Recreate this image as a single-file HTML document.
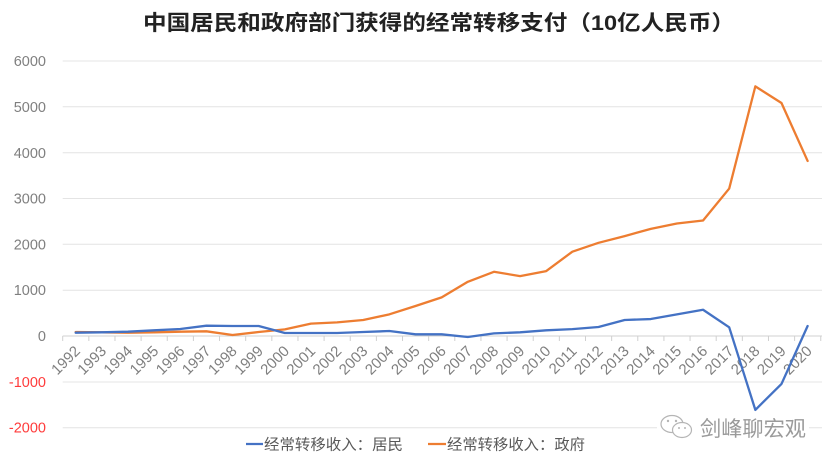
<!DOCTYPE html>
<html><head><meta charset="utf-8">
<style>
html,body{margin:0;padding:0;background:#fff;}
svg{display:block;}
text{font-family:"Liberation Sans","Noto Sans CJK SC",sans-serif;}
</style></head>
<body>
<svg width="830" height="467" viewBox="0 0 830 467" xmlns="http://www.w3.org/2000/svg">
<rect width="830" height="467" fill="#fff"/>
<!-- title -->
<text x="143" y="30" font-size="21" font-weight="bold" fill="#222" textLength="592" lengthAdjust="spacingAndGlyphs" style="font-family:'Liberation Sans','Noto Sans CJK SC',sans-serif">中国居民和政府部门获得的经常转移支付（10亿人民币）</text>

<!-- gridlines -->
<g stroke="#e4e4e4" stroke-width="1">
<line x1="62.7" x2="822" y1="61" y2="61"/>
<line x1="62.7" x2="822" y1="106.8" y2="106.8"/>
<line x1="62.7" x2="822" y1="152.7" y2="152.7"/>
<line x1="62.7" x2="822" y1="198.5" y2="198.5"/>
<line x1="62.7" x2="822" y1="244.3" y2="244.3"/>
<line x1="62.7" x2="822" y1="290.2" y2="290.2"/>
<line x1="62.7" x2="822" y1="382" y2="382"/>
<line x1="62.7" x2="822" y1="427.7" y2="427.7"/>
</g>
<!-- axis line + ticks -->
<g stroke="#d0d0d0" stroke-width="1">
<line x1="62.7" x2="822" y1="336" y2="336"/>
<line x1="62.7" x2="62.7" y1="336" y2="341"/>
<line x1="88.84" x2="88.84" y1="336" y2="341"/>
<line x1="114.98" x2="114.98" y1="336" y2="341"/>
<line x1="141.12" x2="141.12" y1="336" y2="341"/>
<line x1="167.26" x2="167.26" y1="336" y2="341"/>
<line x1="193.4" x2="193.4" y1="336" y2="341"/>
<line x1="219.54" x2="219.54" y1="336" y2="341"/>
<line x1="245.68" x2="245.68" y1="336" y2="341"/>
<line x1="271.82" x2="271.82" y1="336" y2="341"/>
<line x1="297.96" x2="297.96" y1="336" y2="341"/>
<line x1="324.1" x2="324.1" y1="336" y2="341"/>
<line x1="350.24" x2="350.24" y1="336" y2="341"/>
<line x1="376.38" x2="376.38" y1="336" y2="341"/>
<line x1="402.52" x2="402.52" y1="336" y2="341"/>
<line x1="428.66" x2="428.66" y1="336" y2="341"/>
<line x1="454.8" x2="454.8" y1="336" y2="341"/>
<line x1="480.94" x2="480.94" y1="336" y2="341"/>
<line x1="507.08" x2="507.08" y1="336" y2="341"/>
<line x1="533.22" x2="533.22" y1="336" y2="341"/>
<line x1="559.36" x2="559.36" y1="336" y2="341"/>
<line x1="585.5" x2="585.5" y1="336" y2="341"/>
<line x1="611.64" x2="611.64" y1="336" y2="341"/>
<line x1="637.78" x2="637.78" y1="336" y2="341"/>
<line x1="663.92" x2="663.92" y1="336" y2="341"/>
<line x1="690.06" x2="690.06" y1="336" y2="341"/>
<line x1="716.2" x2="716.2" y1="336" y2="341"/>
<line x1="742.34" x2="742.34" y1="336" y2="341"/>
<line x1="768.48" x2="768.48" y1="336" y2="341"/>
<line x1="794.62" x2="794.62" y1="336" y2="341"/>
<line x1="820.76" x2="820.76" y1="336" y2="341"/>
</g>

<!-- y labels -->
<g font-size="14.5" fill="#7f7f7f" text-anchor="end">
<text x="46" y="66">6000</text>
<text x="46" y="112">5000</text>
<text x="46" y="158">4000</text>
<text x="46" y="203.5">3000</text>
<text x="46" y="249.3">2000</text>
<text x="46" y="295.2">1000</text>
<text x="46" y="341">0</text>
<text x="46" y="387" fill="#ff3b3b">-1000</text>
<text x="46" y="432.7" fill="#ff3b3b">-2000</text>
</g>

<!-- x labels -->
<g font-size="15" fill="#7f7f7f" text-anchor="end">
<text transform="translate(81,352) rotate(-45)">1992</text>
<text transform="translate(107.14,352) rotate(-45)">1993</text>
<text transform="translate(133.28,352) rotate(-45)">1994</text>
<text transform="translate(159.42,352) rotate(-45)">1995</text>
<text transform="translate(185.56,352) rotate(-45)">1996</text>
<text transform="translate(211.7,352) rotate(-45)">1997</text>
<text transform="translate(237.84,352) rotate(-45)">1998</text>
<text transform="translate(263.98,352) rotate(-45)">1999</text>
<text transform="translate(290.12,352) rotate(-45)">2000</text>
<text transform="translate(316.26,352) rotate(-45)">2001</text>
<text transform="translate(342.4,352) rotate(-45)">2002</text>
<text transform="translate(368.54,352) rotate(-45)">2003</text>
<text transform="translate(394.68,352) rotate(-45)">2004</text>
<text transform="translate(420.82,352) rotate(-45)">2005</text>
<text transform="translate(446.96,352) rotate(-45)">2006</text>
<text transform="translate(473.1,352) rotate(-45)">2007</text>
<text transform="translate(499.24,352) rotate(-45)">2008</text>
<text transform="translate(525.38,352) rotate(-45)">2009</text>
<text transform="translate(551.52,352) rotate(-45)">2010</text>
<text transform="translate(577.66,352) rotate(-45)">2011</text>
<text transform="translate(603.8,352) rotate(-45)">2012</text>
<text transform="translate(629.94,352) rotate(-45)">2013</text>
<text transform="translate(656.08,352) rotate(-45)">2014</text>
<text transform="translate(682.22,352) rotate(-45)">2015</text>
<text transform="translate(708.36,352) rotate(-45)">2016</text>
<text transform="translate(734.5,352) rotate(-45)">2017</text>
<text transform="translate(760.64,352) rotate(-45)">2018</text>
<text transform="translate(786.78,352) rotate(-45)">2019</text>
<text transform="translate(812.92,352) rotate(-45)">2020</text>
</g>

<!-- watermark backdrop -->
<rect x="657" y="414" width="152" height="27" fill="#fff"/>

<!-- series -->
<g transform="translate(75.7,336) scale(26.14,-0.045833)">
<polyline fill="none" stroke="#ED7D31" stroke-width="2.3" stroke-linejoin="round" stroke-linecap="round" vector-effect="non-scaling-stroke"
points="0,87 1,80 2,72 3,80 4,94 5,102 6,22 7,87 8,145 9,270 10,298 11,349 12,473 13,654 14,843 15,1183 16,1401 17,1307 18,1416 19,1840 20,2033 21,2179 22,2338 23,2455 24,2520 25,3217 26,5447 27,5083 28,3819"/>
<polyline fill="none" stroke="#4472C4" stroke-width="2.3" stroke-linejoin="round" stroke-linecap="round" vector-effect="non-scaling-stroke"
points="0,72 1,80 2,94 3,124 4,152 5,225 6,218 7,218 8,65 9,65 10,65 11,87 12,109 13,37 14,37 15,-22 16,58 17,80 18,124 19,150 20,196 21,349 22,370 23,472 24,573 25,190 26,-1612 27,-1046 28,218"/>
</g>

<!-- watermark -->
<g fill="none" stroke="#b5b5b5" stroke-width="1.2">
<ellipse cx="672" cy="424" rx="11" ry="8.5"/>
<ellipse cx="682" cy="430" rx="9.5" ry="7.5" fill="#fff"/>
</g>
<g fill="#b5b5b5">
<circle cx="668" cy="421" r="1.2"/><circle cx="676" cy="421" r="1.2"/>
<circle cx="679" cy="428" r="1"/><circle cx="685" cy="428" r="1"/>
</g>
<text x="700" y="436" font-size="21" fill="#9a9a9a" textLength="106" lengthAdjust="spacingAndGlyphs" style="font-family:'Liberation Sans','Noto Sans CJK SC',sans-serif">剑峰聊宏观</text>

<!-- legend -->
<line x1="246" x2="263" y1="444" y2="444" stroke="#4472C4" stroke-width="2.3"/>
<text x="264" y="449.5" font-size="15" fill="#595959" textLength="139" lengthAdjust="spacingAndGlyphs">经常转移收入：居民</text>
<line x1="428" x2="446" y1="444" y2="444" stroke="#ED7D31" stroke-width="2.3"/>
<text x="447" y="449.5" font-size="15" fill="#595959" textLength="138" lengthAdjust="spacingAndGlyphs">经常转移收入：政府</text>
</svg>
</body></html>
